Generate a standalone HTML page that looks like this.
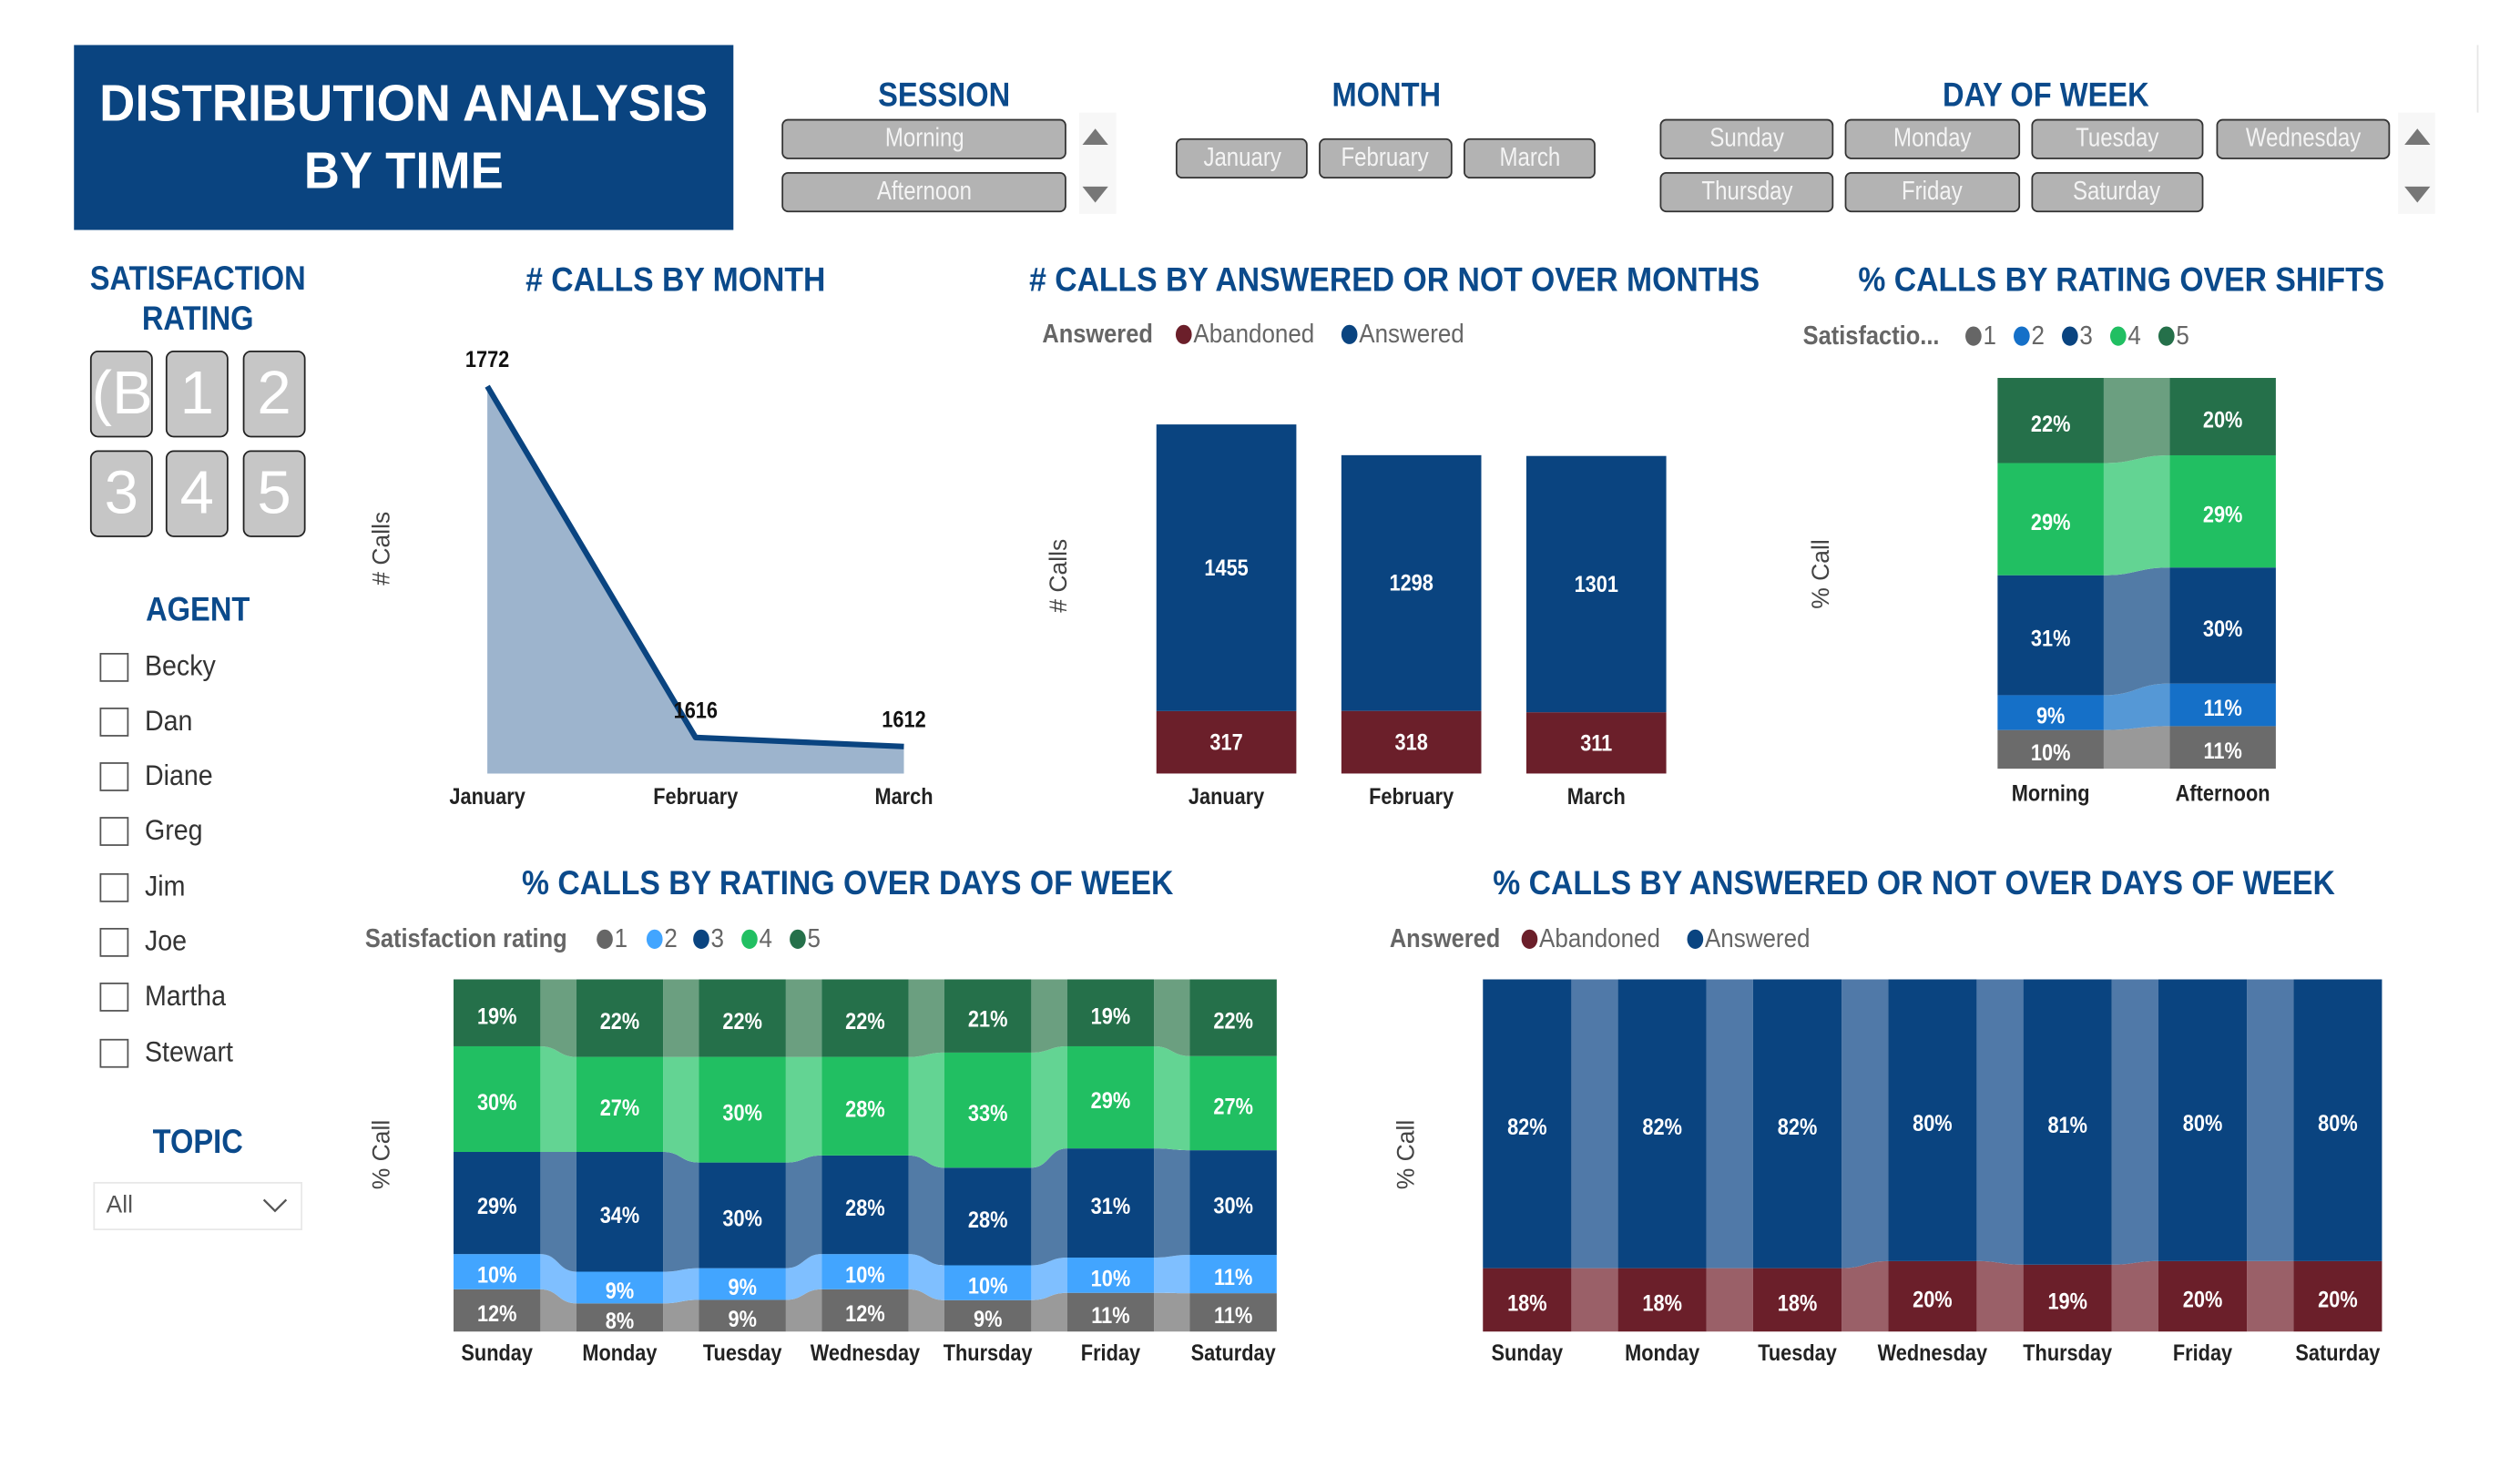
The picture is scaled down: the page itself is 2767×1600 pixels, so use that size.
<!DOCTYPE html>
<html><head><meta charset="utf-8">
<style>
html,body{margin:0;padding:0;background:#fff;width:2767px;height:1600px;overflow:hidden}
#root{position:absolute;left:0;top:0;width:1567px;height:906px;transform:scale(1.766);transform-origin:0 0;font-family:"Liberation Sans",sans-serif}
.abs{position:absolute}
.hd{position:absolute;color:#0b4a8b;font-weight:bold;font-size:21px;text-align:center;white-space:nowrap;transform:translateX(-50%) scaleX(.88)}
.btn{position:absolute;height:23px;background:#b3b3b3;border:1.5px solid #333;border-radius:4px;color:#f4f4f4;font-size:16px;text-align:center;line-height:23px;box-sizing:content-box;white-space:nowrap;overflow:hidden}
.btn span{display:inline-block;transform:scaleX(.85)}
.scr{position:absolute;width:23px;height:63px;background:#f7f7f7}
.up{position:absolute;width:0;height:0;border-left:8px solid transparent;border-right:8px solid transparent;border-bottom:10px solid #777}
.dn{position:absolute;width:0;height:0;border-left:8px solid transparent;border-right:8px solid transparent;border-top:10px solid #777}
.rb{position:absolute;width:37px;height:52px;background:#c6c6c6;border:1.5px solid #222;border-radius:5px;color:#fff;font-size:38px;text-align:center;line-height:52px;overflow:hidden}
.cb{position:absolute;left:62px;width:16px;height:16px;border:1.3px solid #555;background:#fff}
.cl{position:absolute;left:90px;font-size:18px;color:#333;transform:scaleX(.9);transform-origin:0 0}
.cn{transform-box:fill-box;transform-origin:center;transform:scaleX(.88)}
.ct{transform-box:fill-box;transform-origin:center;transform:scaleX(.91)}
</style></head><body>
<div id="root">
<div class="abs" style="left:46px;top:28px;width:410px;height:115px;background:#0a4480;color:#fff;font-weight:bold;font-size:32px;text-align:center;line-height:42px;padding-top:15px;box-sizing:border-box;white-space:nowrap"><div style="transform:scaleX(.96)">DISTRIBUTION ANALYSIS<br>BY TIME</div></div>

<div class="hd" style="left:587px;top:48px">SESSION</div>
<div class="btn" style="left:486px;top:74px;width:175px"><span>Morning</span></div>
<div class="btn" style="left:486px;top:107px;width:175px"><span>Afternoon</span></div>
<div class="scr" style="left:671px;top:70px"></div>
<div class="up" style="left:673px;top:80px"></div>
<div class="dn" style="left:673px;top:116px"></div>

<div class="hd" style="left:862px;top:48px">MONTH</div>
<div class="btn" style="left:731px;top:86px;width:80px"><span>January</span></div>
<div class="btn" style="left:820px;top:86px;width:81px"><span>February</span></div>
<div class="btn" style="left:910px;top:86px;width:80px"><span>March</span></div>

<div class="hd" style="left:1272px;top:48px">DAY OF WEEK</div>
<div class="btn" style="left:1032px;top:74px;width:106px"><span>Sunday</span></div>
<div class="btn" style="left:1147px;top:74px;width:107px"><span>Monday</span></div>
<div class="btn" style="left:1263px;top:74px;width:105px"><span>Tuesday</span></div>
<div class="btn" style="left:1378px;top:74px;width:106px"><span>Wednesday</span></div>
<div class="btn" style="left:1032px;top:107px;width:106px"><span>Thursday</span></div>
<div class="btn" style="left:1147px;top:107px;width:107px"><span>Friday</span></div>
<div class="btn" style="left:1263px;top:107px;width:105px"><span>Saturday</span></div>
<div class="scr" style="left:1491px;top:70px"></div>
<div class="up" style="left:1495px;top:80px"></div>
<div class="dn" style="left:1495px;top:116px"></div>
<div class="abs" style="left:1540px;top:28px;width:1px;height:42px;background:#e6e6e6"></div>

<div class="hd" style="left:123px;top:161px;line-height:25px">SATISFACTION<br>RATING</div>
<div class="rb" style="left:56px;top:218px">(B</div>
<div class="rb" style="left:103px;top:218px">1</div>
<div class="rb" style="left:151px;top:218px">2</div>
<div class="rb" style="left:56px;top:280px">3</div>
<div class="rb" style="left:103px;top:280px">4</div>
<div class="rb" style="left:151px;top:280px">5</div>

<div class="hd" style="left:123px;top:368px">AGENT</div>
<div class="cb" style="top:406px"></div><div class="cl" style="top:404px">Becky</div>
<div class="cb" style="top:440px"></div><div class="cl" style="top:438px">Dan</div>
<div class="cb" style="top:474px"></div><div class="cl" style="top:472px">Diane</div>
<div class="cb" style="top:508px"></div><div class="cl" style="top:506px">Greg</div>
<div class="cb" style="top:543px"></div><div class="cl" style="top:541px">Jim</div>
<div class="cb" style="top:577px"></div><div class="cl" style="top:575px">Joe</div>
<div class="cb" style="top:611px"></div><div class="cl" style="top:609px">Martha</div>
<div class="cb" style="top:646px"></div><div class="cl" style="top:644px">Stewart</div>

<div class="hd" style="left:123px;top:699px">TOPIC</div>
<div class="abs" style="left:58px;top:735px;width:130px;height:30px;border:1.5px solid #e8e8e8;box-sizing:border-box;font-size:15px;color:#555;line-height:28px;padding-left:7px">All
<svg width="16" height="10" style="position:absolute;right:8px;top:9px"><path d="M1 1 L8 8 L15 1" fill="none" stroke="#555" stroke-width="1.3"/></svg></div>

<svg id="ch" width="1567" height="906" style="position:absolute;left:0;top:0;font-family:'Liberation Sans',sans-serif"></svg>
</div>
<script>
// ---- chart 1 data: calls by month
const monthCats = ["January","February","March"];
const monthCalls = [1772,1616,1612];
// ---- chart 2 data: answered / abandoned by month
const monthAnswered = [1455,1298,1301];
const monthAbandoned = [317,318,311];
// ---- chart 3 data: rating by shift (ratings 1..5)
const shiftCats = ["Morning","Afternoon"];
const shiftR1 = [10,11];
const shiftR2 = [9,11];
const shiftR3 = [31,30];
const shiftR4 = [29,29];
const shiftR5 = [22,20];
// ---- chart 4 data: rating by day
const dayCats = ["Sunday","Monday","Tuesday","Wednesday","Thursday","Friday","Saturday"];
const dayR1 = [12,8,9,12,9,11,11];
const dayR2 = [10,9,9,10,10,10,11];
const dayR3 = [29,34,30,28,28,31,30];
const dayR4 = [30,27,30,28,33,29,27];
const dayR5 = [19,22,22,22,21,19,22];
// ---- chart 5 data: answered by day
const dayAbandonedPct = [18,18,18,20,19,20,20];
const dayAnsweredPct = [82,82,82,80,81,80,80];

const NS="http://www.w3.org/2000/svg";
const svg=document.getElementById('ch');
function mk(tag,at,parent){const e=document.createElementNS(NS,tag);for(const k in at)e.setAttribute(k,at[k]);(parent||svg).appendChild(e);return e;}
function txt(x,y,s,at){const e=mk('text',Object.assign({x:x,y:y},at||{}));e.textContent=s;return e;}

function title(x,y,s,name){const t=txt(x,y,s,{'text-anchor':'middle','font-size':21,'font-weight':'bold',fill:'#0b4a8b',class:'ct'});

}
function axisTitle(x,y,s,name){const t=txt(0,0,s,{'text-anchor':'middle','font-size':15,fill:'#444',transform:`translate(${x},${y}) rotate(-90)`});

}
function xlab(x,y,s){const t=txt(x,y,s,{'text-anchor':'middle','font-size':14,'font-weight':'bold',fill:'#222',class:'cn'});

}
function vlab(x,y,s,fill){const t=txt(x,y,s,{'text-anchor':'middle','dominant-baseline':'central','font-size':14,'font-weight':'bold',fill:fill||'#fff',class:'cn'});

}
function legend(x,y,head,items){const h=txt(x,y,head,{'font-size':16,'font-weight':'bold',fill:'#666',style:'transform-box:fill-box;transform-origin:0 0;transform:scaleX(.9)'});


items.forEach(it=>{const c=mk('ellipse',{cx:it.x+5,cy:y-5,rx:5,ry:6,fill:it.c});


const t=txt(it.x+11,y,it.t,{'font-size':16,fill:'#666',style:'transform-box:fill-box;transform-origin:0 0;transform:scaleX(.92)'});

});}

// ===== Chart 1 =====
title(420,181,'# CALLS BY MONTH','calls-by-month-title');
axisTitle(242,341,'# Calls','calls-by-month-y-title');
const c1x=i=>303+i*129.5, c1Base=481, c1Min=1600, c1Max=1780;
const c1y=v=>c1Base-(v-c1Min)/(c1Max-c1Min)*252;
let pts=monthCalls.map((v,i)=>[c1x(i),c1y(v)]);
const area=mk('path',{d:`M${c1x(0)},${c1Base} `+pts.map(p=>'L'+p[0]+','+p[1]).join(' ')+` L${c1x(monthCalls.length-1)},${c1Base} Z`,fill:'#9db4cd'});


const line=mk('polyline',{points:pts.map(p=>p.join(',')).join(' '),fill:'none',stroke:'#0a4480','stroke-width':3.5,'stroke-linejoin':'round'});


monthCalls.forEach((v,i)=>{const t=txt(c1x(i),c1y(v)-12,String(v),{'text-anchor':'middle','font-size':14,'font-weight':'bold',fill:'#111',class:'cn'});


xlab(c1x(i),500,monthCats[i]);});

// ===== Chart 2 =====
title(867,181,'# CALLS BY ANSWERED OR NOT OVER MONTHS','calls-answered-by-month-title');
legend(648,213,'Answered',[{x:731,c:'#6b1f2a',t:'Abandoned'},{x:834,c:'#0a4480',t:'Answered'}]);
axisTitle(663,358,'# Calls','answered-by-month-y-title');
const c2x=i=>719+i*115, c2w=87, c2Base=481, c2k=0.1225;
const c2y=v=>c2Base-v*c2k;
monthCats.forEach((m,i)=>{const x=c2x(i);
const ab=mk('rect',{x:x,y:c2y(monthAbandoned[i]),width:c2w,height:monthAbandoned[i]*c2k,fill:'#6b1f2a'});


const an=mk('rect',{x:x,y:c2y(monthAbandoned[i]+monthAnswered[i]),width:c2w,height:monthAnswered[i]*c2k,fill:'#0a4480'});


vlab(x+c2w/2,c2y(monthAbandoned[i]/2),String(monthAbandoned[i]));
vlab(x+c2w/2,c2y(monthAbandoned[i]+monthAnswered[i]/2),String(monthAnswered[i]));
xlab(x+c2w/2,500,m);});

// ===== stacked 100% with ribbons =====
function stacked(series,cols,rcols,xs,w,top,base,cats,nameP,labY){
  const n=cats.length,H=base-top;
  const tot=cats.map((_,i)=>series.reduce((s,a)=>s+a[i],0));
  const bounds=cats.map((_,i)=>{let acc=0;return series.map(a=>{const y0=base-acc/tot[i]*H;acc+=a[i];return [y0,base-acc/tot[i]*H];});});
  for(let i=0;i<n-1;i++){const x0=xs(i)+w,x1=xs(i+1),xm=(x0+x1)/2;
    series.forEach((a,s)=>{const [b0,t0]=bounds[i][s],[b1,t1]=bounds[i+1][s];
      const p=mk('path',{d:`M${x0},${t0} C${xm},${t0} ${xm},${t1} ${x1},${t1} L${x1},${b1} C${xm},${b1} ${xm},${b0} ${x0},${b0} Z`,fill:rcols[s]});
      
      });}
  cats.forEach((c,i)=>{series.forEach((a,s)=>{const [b,t]=bounds[i][s];
    const r=mk('rect',{x:xs(i),y:t,width:w,height:b-t,fill:cols[s]});
    
    
    vlab(xs(i)+w/2,(t+b)/2+2,a[i]+'%');});
    xlab(xs(i)+w/2,labY,c);});
}

// ===== Chart 3 =====
title(1319,181,'% CALLS BY RATING OVER SHIFTS','rating-by-shift-title');
legend(1121,214,'Satisfactio...',[{x:1222,c:'#666',t:'1'},{x:1252,c:'#1570c8',t:'2'},{x:1282,c:'#0a4480',t:'3'},{x:1312,c:'#21bf62',t:'4'},{x:1342,c:'#25704a',t:'5'}]);
axisTitle(1137,357,'% Call','rating-by-shift-y-title');
stacked([shiftR1,shiftR2,shiftR3,shiftR4,shiftR5],['#6b6b6b','#1570c8','#0a4480','#21bf62','#25704a'],['#999','#5598d6','#527ba6','#63d493','#6b9f80'],i=>1242+i*107,66,235,478,shiftCats,'bar-shift',498);

// ===== Chart 4 =====
title(527,556,'% CALLS BY RATING OVER DAYS OF WEEK','rating-by-day-title');
legend(227,589,'Satisfaction rating',[{x:371,c:'#666',t:'1'},{x:402,c:'#42a5ff',t:'2'},{x:431,c:'#0a4480',t:'3'},{x:461,c:'#21bf62',t:'4'},{x:491,c:'#25704a',t:'5'}]);
axisTitle(242,718,'% Call','rating-by-day-y-title');
stacked([dayR1,dayR2,dayR3,dayR4,dayR5],['#6b6b6b','#42a5ff','#0a4480','#21bf62','#25704a'],['#9a9a9a','#7fbfff','#527ba6','#63d493','#6b9f80'],i=>282+i*76.3,54,609,828,dayCats,'bar-day-rating',846);

// ===== Chart 5 =====
title(1190,556,'% CALLS BY ANSWERED OR NOT OVER DAYS OF WEEK','answered-by-day-title');
legend(864,589,'Answered',[{x:946,c:'#6b1f2a',t:'Abandoned'},{x:1049,c:'#0a4480',t:'Answered'}]);
axisTitle(879,718,'% Call','answered-by-day-y-title');
stacked([dayAbandonedPct,dayAnsweredPct],['#6b1f2a','#0a4480'],['#9a6068','#5079a8'],i=>922+i*84,55,609,828,dayCats,'bar-day-answered',846);
</script>
</body></html>
